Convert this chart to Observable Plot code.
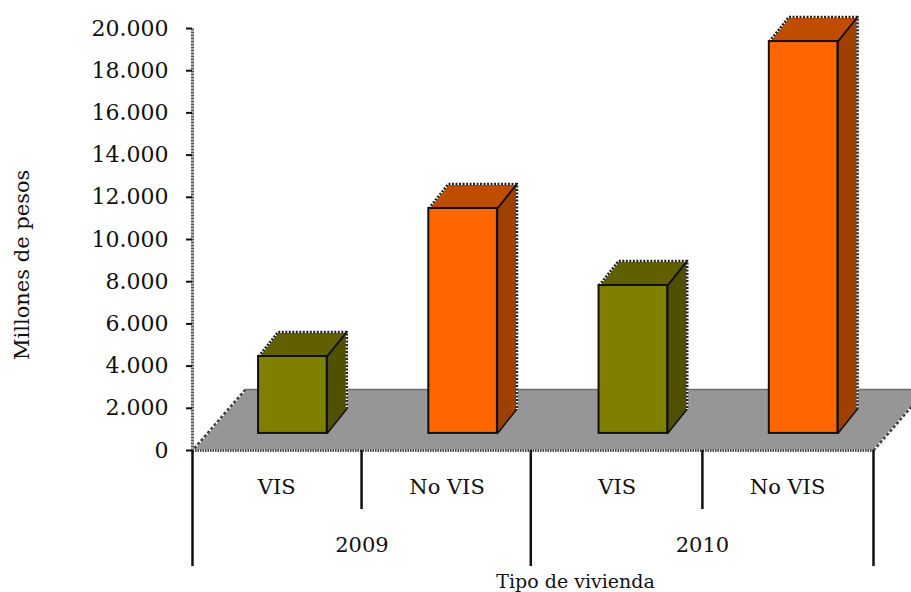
<!DOCTYPE html>
<html><head><meta charset="utf-8">
<script src="https://cdn.jsdelivr.net/npm/d3@7"></script>
<script src="https://cdn.jsdelivr.net/npm/@observablehq/plot@0.6"></script>
<style>html,body{margin:0;padding:0;background:#fff;overflow:hidden}</style>
</head><body><div id="chart"></div>
<script>
const tipos = ["VIS", "No VIS", "VIS", "No VIS"];
const anios = ["2009", "2010"];
const valores = [3645, 10660, 7010, 18570];
const frentes = ["#808000", "#FF6600", "#808000", "#FF6600"];
const techos = ["#606000", "#BF4D00", "#606000", "#BF4D00"];
const lados = ["#505000", "#A04000", "#505000", "#A04000"];
const yTicks = [0, 2000, 4000, 6000, 8000, 10000, 12000, 14000, 16000, 18000, 20000];

const font = "'DejaVu Serif', serif";
const es = d3.formatLocale({decimal: ",", thousands: ".", grouping: [3], currency: ["$", ""]}).format(",");

// pseudo-3D geometry expressed in scale units (slots on x, pesos on y)
const floorDX = 0.311, floorDY = 2890;
const depthX = 0.115, depthY = 1160;
const barOff = 0.388, barW = 0.403, barLift = 810;
const labelY = -1760, yearY = -4480, shortSep = -2800, longSep = -5500;
const seps = [0, 0.993, 1.987, 2.995, 4];

const pts = a => a.map(([x, y]) => ({x, y}));
const floor = pts([[0, 0], [4, 0], [4 + floorDX, floorDY], [floorDX, floorDY], [0, 0]]);

// a dotted edge: white underlay with dark dashes on top
const dotted = (data, stroke, dash, w = 2.5) => [
  Plot.line(data, {x: "x", y: "y", stroke: "#fff", strokeWidth: w - 0.5, strokeLinecap: "butt"}),
  Plot.line(data, {x: "x", y: "y", stroke, strokeWidth: w, strokeDasharray: dash, strokeLinecap: "butt"})
];

const boxMarks = valores.flatMap((v, i) => {
  const x0 = i + barOff, x1 = x0 + barW, y0 = barLift, y1 = barLift + v;
  const top = pts([[x0, y1], [x1, y1], [x1 + depthX, y1 + depthY], [x0 + depthX, y1 + depthY], [x0, y1]]);
  const side = pts([[x1, y0], [x1 + depthX, y0 + depthY], [x1 + depthX, y1 + depthY], [x1, y1], [x1, y0]]);
  const back = pts([[x0, y1], [x0 + depthX, y1 + depthY], [x1 + depthX, y1 + depthY], [x1 + depthX, y0 + depthY]]);
  return [
    Plot.line(top, {x: "x", y: "y", fill: techos[i], stroke: "#111", strokeWidth: 1.5}),
    Plot.line(side, {x: "x", y: "y", fill: lados[i], stroke: "#111", strokeWidth: 1.5}),
    ...dotted(back, "#222", "2,1.5"),
    Plot.line(pts([[x1, y1], [x1 + depthX, y1 + depthY]]), {x: "x", y: "y", stroke: "#111", strokeWidth: 1.5}),
    Plot.rect([v], {x1: x0, x2: x1, y1: y0, y2: y1, fill: frentes[i], stroke: "#111", strokeWidth: 2})
  ];
});

const txt = {fontSize: 21, fontFamily: font, fill: "#111"};

const chart = Plot.plot({
  width: 911, height: 592,
  marginLeft: 192, marginRight: 38, marginTop: 28, marginBottom: 142,
  style: {fontFamily: font, background: "#fff", overflow: "hidden"},
  x: {domain: [0, 4], axis: null},
  y: {domain: [0, 20000], axis: null},
  marks: [
    Plot.line(floor, {x: "x", y: "y", fill: "#969696", stroke: "#6e6e6e", strokeWidth: 1.5}),
    ...dotted(floor.slice(0, 2), "#333", "1.5,1"),
    ...dotted([floor[3], floor[0]], "#444", "3,2"),
    ...dotted([floor[1], floor[2]], "#444", "3,2"),
    ...dotted(pts([[0, 0], [0, 20000]]), "#555", "2,1", 3),
    Plot.axisY({ticks: yTicks, tickFormat: es, tickSize: 6, tickPadding: 18, fontSize: 22, label: null, stroke: "#111", strokeWidth: 2, fill: "#111"}),
    ...boxMarks,
    Plot.ruleX(seps, {y1: 0, y2: (d, i) => i % 2 ? shortSep : longSep, stroke: "#111", strokeWidth: 2.5}),
    Plot.text(tipos, {x: (d, i) => i + 0.495, y: labelY, text: d => d, ...txt}),
    Plot.text(anios, {x: (d, i) => 2 * i + 0.995, y: yearY, text: d => d, ...txt}),
    Plot.text(["Tipo de vivienda"], {x: 2.25, y: -6250, text: d => d, ...txt, fontSize: 19}),
    Plot.text(["Millones de pesos"], {x: -1, y: 8800, rotate: -90, text: d => d, ...txt})
  ]
});
document.getElementById("chart").append(chart);
</script></body></html>
